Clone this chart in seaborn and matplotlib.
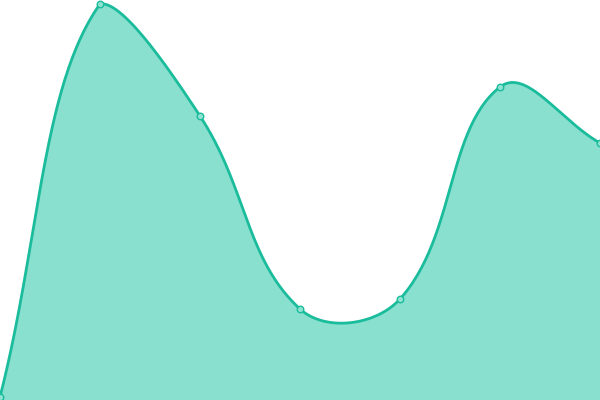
import numpy as np
import pandas as pd
import matplotlib
matplotlib.use("Agg")
import matplotlib.pyplot as plt
import seaborn as sns

# data
categories = [0, 1, 2, 3, 4, 5, 6]
values = [3, 396, 284, 91, 101, 313, 257]

LINE = "#1abc9c"
FILL = "#89e0cf"
TENSION = 0.4

sns.set_theme(style="white")
fig = plt.figure(figsize=(6, 4), dpi=100)
ax = fig.add_axes([0, 0, 1, 1])
XL = (0, 6)
YL = (0, 400)
ax.set_xlim(*XL)
ax.set_ylim(*YL)
W, H = 600.0, 400.0

def to_px(x, y):
    return ((x - XL[0]) / (XL[1] - XL[0]) * W, (y - YL[0]) / (YL[1] - YL[0]) * H)

def from_px(px, py):
    return (px / W * (XL[1] - XL[0]) + XL[0], py / H * (YL[1] - YL[0]) + YL[0])

pts = [np.array(to_px(x, y), dtype=float) for x, y in zip(categories, values)]
n = len(pts)
cp_prev = [None] * n
cp_next = [None] * n
for i in range(n):
    cur = pts[i]
    prev = pts[i - 1] if i > 0 else cur
    nxt = pts[i + 1] if i < n - 1 else cur
    d01 = np.hypot(*(cur - prev))
    d12 = np.hypot(*(nxt - cur))
    tot = d01 + d12
    s01 = d01 / tot if tot else 0
    s12 = d12 / tot if tot else 0
    fa = TENSION * s01
    fb = TENSION * s12
    cp_prev[i] = cur - fa * (nxt - prev)
    cp_next[i] = cur + fb * (nxt - prev)
    for c in (cp_prev[i], cp_next[i]):
        c[0] = min(max(c[0], 0), W)
        c[1] = min(max(c[1], 0), H)

cx, cy = [], []
ts = np.linspace(0, 1, 60)
for i in range(n - 1):
    p0, p1, p2, p3 = pts[i], cp_next[i], cp_prev[i + 1], pts[i + 1]
    for t in (ts if i == 0 else ts[1:]):
        b = ((1 - t) ** 3) * p0 + 3 * ((1 - t) ** 2) * t * p1 + 3 * (1 - t) * t * t * p2 + t ** 3 * p3
        x, y = from_px(b[0], b[1])
        cx.append(x)
        cy.append(y)

curve = pd.DataFrame({"x": cx, "y": cy, "o": np.arange(len(cx))})
ax.fill_between(curve["x"], YL[0], curve["y"], color=FILL, linewidth=0)
sns.lineplot(data=curve, x="x", y="y", sort=False, estimator=None, color=LINE,
             linewidth=2.0, ax=ax)
df = pd.DataFrame({"x": categories, "y": values})
sns.scatterplot(data=df, x="x", y="y", s=22, color="#8fe3d2", edgecolor=LINE,
                linewidth=1.0, ax=ax, zorder=5)

ax.set_xlim(*XL)
ax.set_ylim(*YL)
ax.set_axis_off()
fig.savefig("out.png", dpi=100)
